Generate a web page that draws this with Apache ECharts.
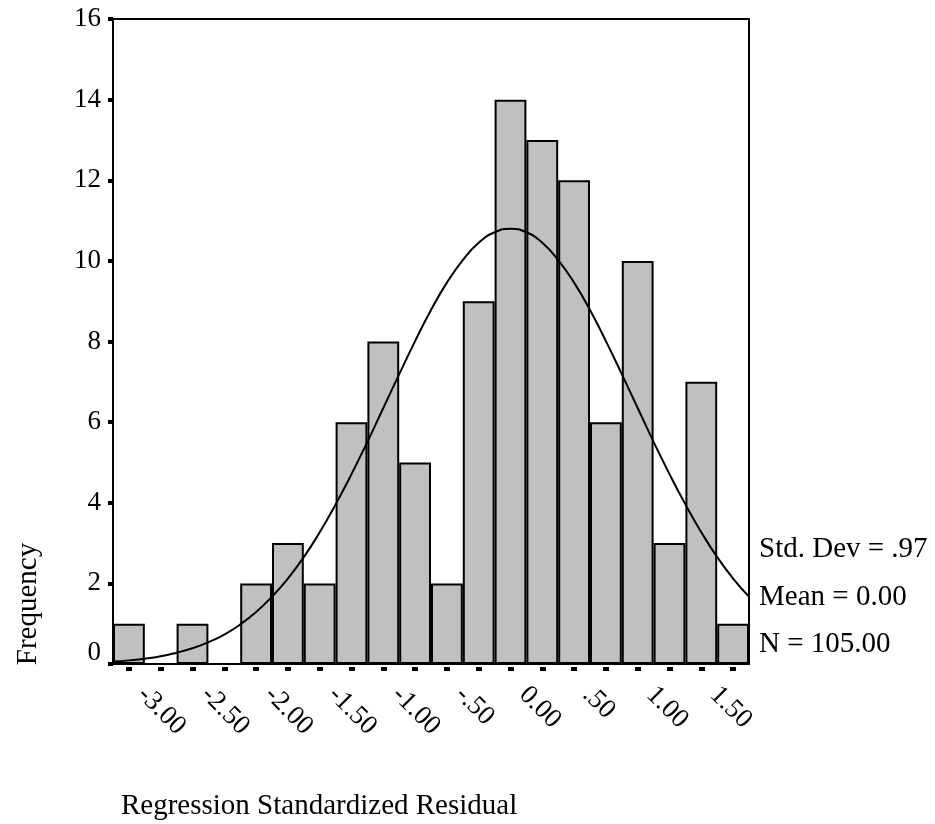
<!DOCTYPE html>
<html>
<head>
<meta charset="utf-8">
<script src="https://cdn.jsdelivr.net/npm/echarts@6/dist/echarts.min.js"></script>
<style>
  html, body { margin: 0; padding: 0; background: #fff; }
  #chart { width: 935px; height: 824px; }
</style>
</head>
<body>
<div id="chart"></div>
<script>
// bin centres (width .25), labels as SPSS writes them
const categories = ['-3.00', '-2.75', '-2.50', '-2.25', '-2.00', '-1.75', '-1.50', '-1.25', '-1.00', '-.75',
  '-.50', '-.25', '0.00', '.25', '.50', '.75', '1.00', '1.25', '1.50', '1.75'];
const frequency = [1, 0, 1, 0, 2, 3, 2, 6, 8, 5, 2, 9, 14, 13, 12, 6, 10, 3, 7, 1];

// fitted normal curve
const curveX = [-3.125, -3.0, -2.875, -2.75, -2.625, -2.5, -2.375, -2.25, -2.125, -2.0, -1.875, -1.75, -1.625,
  -1.5, -1.375, -1.25, -1.125, -1.0, -0.875, -0.75, -0.625, -0.5, -0.375, -0.25, -0.125, 0,
  0.125, 0.25, 0.375, 0.5, 0.625, 0.75, 0.875, 1.0, 1.125, 1.25, 1.375, 1.5, 1.625, 1.75, 1.875];
const curveY = [0.06, 0.09, 0.13, 0.19, 0.28, 0.39, 0.54, 0.73, 0.98, 1.29, 1.67, 2.12, 2.65,
  3.27, 3.96, 4.71, 5.51, 6.35, 7.19, 8.01, 8.78, 9.46, 10.02, 10.45, 10.71, 10.8,
  10.71, 10.45, 10.02, 9.46, 8.78, 8.01, 7.19, 6.35, 5.51, 4.71, 3.96, 3.27, 2.65, 2.12, 1.67];

const yTicks = { min: 0, max: 16, interval: 2 };
const stats = ['Std. Dev = .97', 'Mean = 0.00', 'N = 105.00'];

const font = 'Liberation Serif';
const textFont = '29px "Liberation Serif"';

let myecharts = echarts.init(document.getElementById('chart'));
myecharts.setOption({
  animation: false,
  grid: {
    left: 113,
    right: 186,
    top: 19,
    bottom: 160,
    show: true,
    borderColor: '#000',
    borderWidth: 2,
  },
  xAxis: [
    {
      type: 'category',
      data: categories,
      boundaryGap: true,
      axisLine: { lineStyle: { color: '#000', width: 2 } },
      axisTick: { show: false },
      axisLabel: {
        interval: 1,
        rotate: -45,
        margin: 14,
        padding: [0, 0, 0, 18],
        color: '#000',
        fontFamily: font,
        fontSize: 27,
      },
      splitLine: { show: false },
    },
    {
      type: 'value',
      min: -3.125,
      max: 1.875,
      show: false,
    },
    {
      // the little square tick marks under each bar
      type: 'category',
      data: categories,
      position: 'bottom',
      offset: 3,
      axisLine: { show: false },
      axisLabel: { show: false },
      axisTick: {
        show: true,
        alignWithLabel: true,
        interval: 0,
        length: 4,
        lineStyle: { color: '#000', width: 6 },
      },
    },
  ],
  yAxis: {
    type: 'value',
    min: yTicks.min,
    max: yTicks.max,
    interval: yTicks.interval,
    axisLine: { show: true, onZero: false, lineStyle: { color: '#000', width: 2 } },
    axisTick: { show: true, length: 5, lineStyle: { color: '#000', width: 4 } },
    axisLabel: {
      margin: 12,
      color: '#000',
      fontFamily: font,
      fontSize: 27,
      formatter: (v) => (v === 0 ? '{z|0}' : String(v)),
      rich: {
        z: { fontFamily: font, fontSize: 27, color: '#000', padding: [0, 0, 22, 0] },
      },
    },
    splitLine: { show: false },
  },
  series: [
    {
      type: 'bar',
      data: frequency,
      barCategoryGap: 0,
      itemStyle: {
        color: '#c0c0c0',
        borderColor: '#000',
        borderWidth: 2,
      },
      z: 2,
    },
    {
      type: 'line',
      xAxisIndex: 1,
      data: curveX.map((x, i) => [x, curveY[i]]),
      smooth: true,
      showSymbol: false,
      lineStyle: { color: '#000', width: 2 },
      z: 3,
    },
  ],
  graphic: [
    {
      type: 'text',
      x: 759,
      y: 549,
      style: { text: stats[0], font: textFont, fill: '#000', verticalAlign: 'middle' },
    },
    {
      type: 'text',
      x: 759,
      y: 597,
      style: { text: stats[1], font: textFont, fill: '#000', verticalAlign: 'middle' },
    },
    {
      type: 'text',
      x: 759,
      y: 644,
      style: { text: stats[2], font: textFont, fill: '#000', verticalAlign: 'middle' },
    },
    {
      type: 'text',
      x: 28,
      y: 604,
      rotation: Math.PI / 2,
      style: {
        text: 'Frequency',
        font: textFont,
        fill: '#000',
        align: 'center',
        verticalAlign: 'middle',
      },
    },
    {
      type: 'text',
      x: 121,
      y: 806,
      style: {
        text: 'Regression Standardized Residual',
        font: textFont,
        fill: '#000',
        verticalAlign: 'middle',
      },
    },
  ],
});
</script>
</body>
</html>
